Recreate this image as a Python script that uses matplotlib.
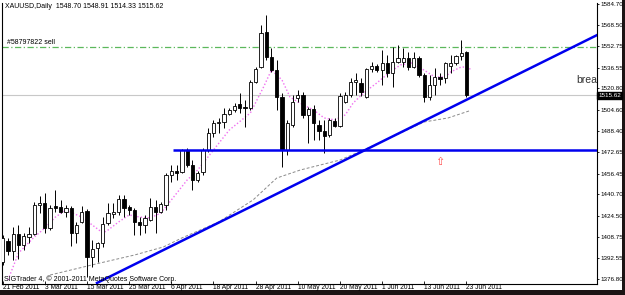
import matplotlib
matplotlib.use('Agg')
import matplotlib.pyplot as plt
from matplotlib.patches import Rectangle
import numpy as np

plt.rcParams['font.family'] = ['Liberation Sans', 'DejaVu Sans']

# daily OHLC, 21 Feb 2011 .. 23 Jun 2011
opens = [1389.6, 1405.5, 1397.9, 1410.8, 1402.5, 1408.5, 1410.8, 1432.7, 1434.2, 1415.3,
         1432.0, 1431.2, 1427.4, 1430.5, 1411.6, 1419.9, 1428.2, 1393.4, 1400.2, 1404.0,
         1419.1, 1425.9, 1427.4, 1437.3, 1431.2, 1428.9, 1419.9, 1417.6, 1421.4, 1431.2,
         1427.4, 1432.7, 1455.4, 1458.4, 1457.7, 1474.3, 1463.0, 1451.6, 1457.7, 1474.3,
         1487.2, 1494.7, 1495.5, 1501.5, 1504.5, 1509.1, 1506.8, 1506.1, 1525.7, 1537.0,
         1563.5, 1544.6, 1534.8, 1514.4, 1474.3, 1493.2, 1513.6, 1515.9, 1500.8, 1505.3,
         1493.2, 1488.7, 1485.6, 1496.2, 1492.4, 1510.6, 1515.9, 1525.7, 1525.0, 1514.4,
         1535.5, 1537.8, 1534.8, 1540.1, 1532.5, 1540.8, 1540.8, 1543.9, 1537.0, 1543.9,
         1531.0, 1514.4, 1523.4, 1529.5, 1528.7, 1537.8, 1540.1, 1545.4, 1548.70]
highs = [1410.0, 1407.8, 1416.1, 1417.6, 1411.6, 1416.1, 1435.0, 1439.5, 1441.8, 1432.7,
         1444.1, 1436.5, 1432.7, 1432.0, 1419.9, 1432.0, 1429.5, 1406.3, 1404.7, 1423.6,
         1434.2, 1434.2, 1440.3, 1440.3, 1432.7, 1430.5, 1423.6, 1425.2, 1438.0, 1436.5,
         1435.0, 1456.9, 1463.0, 1463.0, 1475.0, 1475.8, 1466.7, 1458.4, 1475.8, 1490.9,
         1497.0, 1498.5, 1506.1, 1506.1, 1509.8, 1517.4, 1512.1, 1527.2, 1537.0, 1568.8,
         1576.4, 1551.4, 1542.3, 1517.4, 1497.0, 1515.9, 1519.7, 1518.1, 1506.8, 1508.3,
         1497.0, 1497.0, 1498.5, 1498.5, 1517.4, 1518.1, 1528.7, 1532.5, 1528.7, 1536.3,
         1540.8, 1539.3, 1549.9, 1546.1, 1552.2, 1553.7, 1551.4, 1548.4, 1548.4, 1545.4,
         1532.5, 1531.0, 1536.3, 1532.5, 1540.8, 1546.1, 1546.1, 1557.5, 1548.91]
lows = [1387.4, 1394.9, 1391.1, 1391.9, 1398.7, 1404.0, 1410.0, 1426.7, 1411.6, 1413.8,
        1427.4, 1426.7, 1423.6, 1401.7, 1404.0, 1419.1, 1378.3, 1385.8, 1389.6, 1401.0,
        1417.6, 1422.9, 1425.2, 1423.6, 1425.2, 1410.0, 1410.0, 1411.6, 1420.5, 1411.6,
        1426.7, 1428.9, 1450.1, 1451.6, 1456.9, 1461.4, 1444.1, 1450.1, 1455.4, 1472.8,
        1484.1, 1487.2, 1490.9, 1500.8, 1503.0, 1502.3, 1491.7, 1504.5, 1525.0, 1536.3,
        1542.3, 1533.3, 1504.5, 1461.4, 1470.5, 1491.7, 1510.6, 1498.5, 1479.6, 1481.9,
        1481.9, 1472.0, 1484.1, 1491.7, 1491.7, 1509.8, 1514.4, 1515.9, 1515.1, 1513.6,
        1533.3, 1533.3, 1523.4, 1529.5, 1521.9, 1540.1, 1537.0, 1534.8, 1536.3, 1529.5,
        1510.6, 1512.1, 1515.9, 1523.4, 1525.0, 1532.5, 1538.6, 1542.3, 1514.33]
closes = [1407.8, 1397.9, 1410.8, 1402.5, 1409.3, 1410.8, 1432.7, 1434.2, 1415.3, 1430.5,
          1430.5, 1427.4, 1430.5, 1411.6, 1417.6, 1427.4, 1393.4, 1399.5, 1404.0, 1418.4,
          1426.7, 1427.4, 1437.3, 1430.5, 1428.9, 1419.9, 1417.6, 1422.9, 1431.2, 1427.4,
          1433.5, 1455.4, 1458.4, 1456.9, 1474.3, 1463.0, 1451.6, 1456.9, 1474.3, 1487.2,
          1494.7, 1495.5, 1501.5, 1504.5, 1507.6, 1506.1, 1506.1, 1525.7, 1535.5, 1562.8,
          1544.6, 1534.8, 1514.4, 1474.3, 1494.7, 1510.6, 1515.9, 1500.8, 1505.3, 1494.7,
          1488.7, 1484.9, 1497.0, 1492.4, 1515.1, 1515.9, 1525.7, 1527.2, 1518.1, 1535.5,
          1537.8, 1534.8, 1540.1, 1532.5, 1540.8, 1543.9, 1543.9, 1537.0, 1543.9, 1531.0,
          1514.4, 1523.4, 1529.5, 1528.0, 1540.1, 1540.1, 1545.4, 1547.6, 1515.62]

# fast MA (pink dotted) and slow MA (grey dashed), read as points
pink_x = [1, 3, 6, 8, 10, 12, 15, 17, 19, 20, 22, 24, 26, 28, 30, 32, 35, 37, 40, 43,
          47, 49.5, 51, 53, 54.5, 56, 59, 61, 63, 65, 66.5, 68.5, 71, 73.5, 75.5, 77.5,
          79, 80.5, 82, 84, 85, 87, 88, 89]
pink_y = [1376.0, 1396.4, 1408.5, 1415.3, 1423.6, 1428.9, 1423.6, 1417.6, 1411.6, 1413.8,
          1419.9, 1425.2, 1423.6, 1422.9, 1426.7, 1436.5, 1451.6, 1459.2, 1474.3, 1489.4,
          1502.3, 1521.9, 1534.8, 1527.2, 1514.4, 1510.6, 1504.5, 1498.5, 1497.0, 1500.8,
          1509.8, 1517.4, 1525.0, 1533.3, 1538.6, 1540.1, 1537.0, 1533.3, 1529.5, 1529.5,
          1533.3, 1537.0, 1537.0, 1534.8]
grey_x = [9, 18.5, 25, 30.5, 34, 41, 47.5, 52, 56.5, 64, 68.5, 80, 84.5, 88.5]
grey_y = [1379.8, 1388.9, 1394.9, 1401.0, 1407.8, 1419.9, 1436.5, 1453.1, 1459.2, 1466.7,
          1474.3, 1495.5, 1498.5, 1503.8]

trend_x = [17.9, 112.8]
trend_y = [1373.8, 1561.2]
support_level = 1474.3
support_start = 32.3
sell_level = 1551.8
last_price = 1515.62

price_ticks = [1376.80, 1392.55, 1408.75, 1424.50, 1440.70, 1456.45, 1472.65,
               1488.40, 1504.60, 1520.80, 1536.55, 1552.75, 1568.50, 1584.70]
date_pos = [0, 8, 16, 24, 32, 40, 48, 56, 64, 72, 80, 88]
date_labels = ['21 Feb 2011', '3 Mar 2011', '15 Mar 2011', '25 Mar 2011', '6 Apr 2011',
               '18 Apr 2011', '28 Apr 2011', '10 May 2011', '20 May 2011', '1 Jun 2011',
               '13 Jun 2011', '23 Jun 2011']

fig = plt.figure(figsize=(6.25, 2.95), dpi=100)
fig.patch.set_facecolor('#1c1414')
fig.add_artist(Rectangle((0, 5 / 295), 622 / 625, 290 / 295, transform=fig.transFigure,
                         facecolor='white', edgecolor='none', zorder=0))
ax = fig.add_axes([2 / 625, 11 / 295, 595 / 625, 281 / 295])
ax.set_facecolor('white')

o = np.array(opens)
c = np.array(closes)
x = np.arange(len(o))
bottoms = np.minimum(o, c)
heights = np.maximum(np.abs(c - o), 0.3)
fills = ['white' if cc >= oo else 'black' for oo, cc in zip(o, c)]
ax.vlines(x, lows, highs, color='black', lw=0.7, zorder=3)
ax.bar(x, heights, bottom=bottoms, width=0.62, color=fills, edgecolor='black',
       linewidth=0.6, zorder=4)

ax.plot(pink_x, pink_y, color='#f070f0', ls=(0, (1, 1.5)), lw=1.0, zorder=2)
ax.plot(grey_x, grey_y, color='#8a8a8a', ls=(0, (3, 2)), lw=0.7, zorder=2)
ax.axhline(last_price, color='#c8c8c8', lw=0.8, zorder=1)
ax.axhline(sell_level, color='#5cb85c', ls=(0, (5, 2, 1, 2)), lw=0.9, zorder=1)
ax.plot(trend_x, trend_y, color='#0000ee', lw=1.8, zorder=5)
ax.hlines(support_level, support_start, 113, color='#0000ee', lw=1.8, zorder=5)

ax.text(83.0, 1465.5, '\u21e7', color='#ff4a4a', fontsize=8, ha='center', va='center',
        family='DejaVu Sans', zorder=6)
ax.text(108.9, 1527.2, 'brea', color='#333333', fontsize=7.5, ha='left', va='center',
        clip_on=True, zorder=6)

ax.set_xlim(-0.13, 112.77)
ax.set_ylim(1373.0, 1585.4)

ax.yaxis.tick_right()
ax.set_yticks(price_ticks)
ax.set_yticklabels(['%.2f' % p for p in price_ticks])
ax.tick_params(axis='y', labelsize=4.5, length=1.5, pad=0.8, width=0.6)
ax.set_xticks(date_pos)
ax.set_xticklabels(date_labels, ha='left')
ax.tick_params(axis='x', labelsize=4.8, length=2, pad=0.3, width=0.6, direction='in')
ax.text(1.002, last_price, '%.2f' % last_price, transform=ax.get_yaxis_transform(),
        fontsize=4.5, color='white', va='center', ha='left',
        bbox=dict(boxstyle='square,pad=0.12', facecolor='black', edgecolor='black'))

for side in ['left', 'right', 'bottom']:
    ax.spines[side].set_linewidth(0.8)
ax.spines['top'].set_visible(False)

fig.text(5 / 625, 1 - 7 / 295, 'XAUUSD,Daily  1548.70 1548.91 1514.33 1515.62',
         fontsize=5, va='center', ha='left')
fig.text(7 / 625, 1 - 43 / 295, '#58797822 sell', fontsize=5, va='center', ha='left')
fig.text(4 / 625, 1 - 279 / 295, 'SIGTrader 4, \u00a9 2001-2011 MetaQuotes Software Corp.',
         fontsize=5, va='center', ha='left')

fig.savefig('out.png', dpi=100, facecolor=fig.get_facecolor())
